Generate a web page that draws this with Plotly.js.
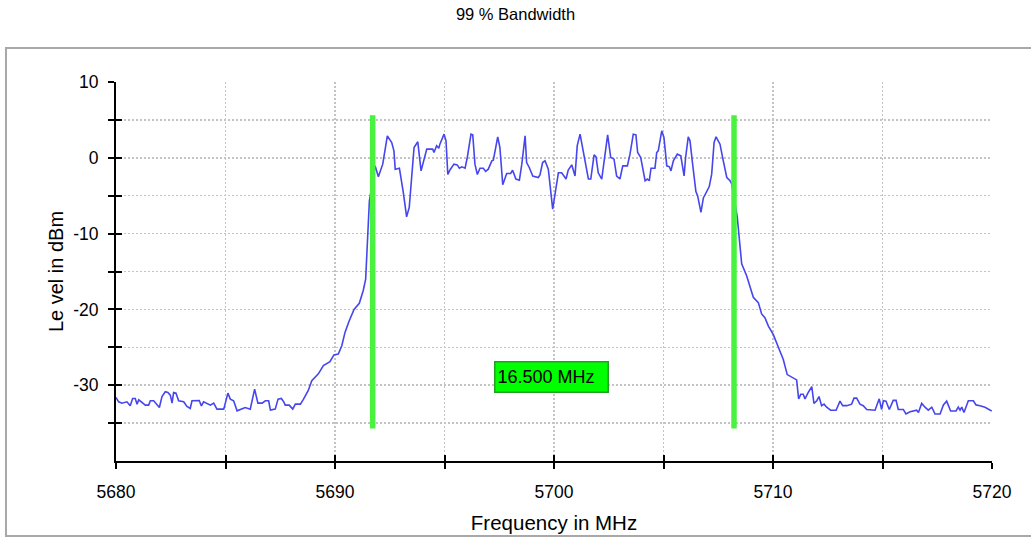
<!DOCTYPE html>
<html>
<head>
<meta charset="utf-8">
<script src="https://cdn.plot.ly/plotly-3.0.1.min.js"></script>
<style>
  html, body { margin: 0; padding: 0; background: #ffffff; }
  #chart { width: 1031px; height: 540px; }
</style>
</head>
<body>
<div id="chart"></div>
<script>
// ---- data ----
const chartTitle = '99 % Bandwidth';
const xTitle = 'Frequency in MHz';
const yTitle = 'Le vel in dBm';

// spectrum trace: frequency (MHz) and level (dBm)
const spectrumFreq = [
  5680.00, 5680.12, 5680.27, 5680.50, 5680.65, 5680.76, 5680.88, 5680.96, 5681.04, 5681.19,
  5681.34, 5681.49, 5681.57, 5681.72, 5681.87, 5681.98, 5682.10, 5682.25, 5682.37, 5682.48,
  5682.56, 5682.63, 5682.74, 5682.86, 5683.09, 5683.24, 5683.39, 5683.47, 5683.80, 5683.90,
  5684.00, 5684.16, 5684.31, 5684.46, 5684.61, 5684.92, 5685.11, 5685.22, 5685.37, 5685.53,
  5685.68, 5685.90, 5686.13, 5686.33, 5686.48, 5686.67, 5686.82, 5686.97, 5687.05, 5687.27,
  5687.40, 5687.55, 5687.66, 5687.73, 5687.91, 5688.07, 5688.19, 5688.42,
  5688.55, 5688.78, 5688.94, 5689.09, 5689.24, 5689.47, 5689.77, 5689.95, 5690.15, 5690.31,
  5690.46, 5690.65, 5690.87, 5691.11, 5691.29, 5691.40, 5691.47, 5691.52, 5691.57,
  5691.83, 5691.98, 5692.18, 5692.39, 5692.59, 5692.69, 5692.75, 5692.94, 5693.12, 5693.27,
  5693.39, 5693.61, 5693.78, 5693.93, 5694.19, 5694.46, 5694.52, 5694.64, 5694.74, 5694.79,
  5694.98, 5695.07, 5695.15, 5695.25, 5695.43, 5695.58, 5695.68, 5695.79, 5695.94, 5696.04,
  5696.21, 5696.29, 5696.39, 5696.50, 5696.62, 5696.77, 5696.88, 5697.00, 5697.16, 5697.23,
  5697.43, 5697.53, 5697.66, 5697.84, 5698.02, 5698.11, 5698.26, 5698.42, 5698.53, 5698.68,
  5698.75, 5698.87, 5699.03, 5699.28, 5699.36, 5699.48, 5699.59, 5699.74, 5699.94, 5700.05,
  5700.20, 5700.35, 5700.55, 5700.65, 5700.81, 5700.96, 5701.06, 5701.19, 5701.37, 5701.57,
  5701.68, 5701.83, 5701.92, 5702.02, 5702.18, 5702.33, 5702.45, 5702.59, 5702.74, 5702.86,
  5703.01, 5703.14, 5703.35, 5703.47, 5703.62, 5703.74, 5703.82, 5703.96, 5704.16, 5704.26,
  5704.35, 5704.43, 5704.61, 5704.69, 5704.76, 5704.92, 5705.02, 5705.15, 5705.27, 5705.34,
  5705.45, 5705.63, 5705.79, 5705.94, 5706.01, 5706.13, 5706.21, 5706.33, 5706.48, 5706.56,
  5706.71, 5706.82, 5706.94, 5707.09, 5707.20, 5707.31, 5707.40, 5707.58, 5707.73, 5707.89,
  5708.04, 5708.11,
  5708.37, 5708.46, 5708.57, 5708.80, 5708.95, 5709.10, 5709.33, 5709.48, 5709.63, 5709.79,
  5710.01, 5710.24, 5710.47, 5710.65, 5710.85, 5711.08, 5711.17, 5711.27, 5711.38, 5711.46,
  5711.61, 5711.77, 5711.87, 5712.00, 5712.10, 5712.22, 5712.33, 5712.45, 5712.63, 5712.88,
  5713.06, 5713.18, 5713.37, 5713.59, 5713.70, 5713.82, 5713.97, 5714.12, 5714.28, 5714.51,
  5714.66, 5714.85, 5714.96, 5715.04, 5715.16, 5715.31, 5715.49, 5715.62, 5715.72, 5715.95,
  5716.07, 5716.26, 5716.56, 5716.64, 5716.79, 5716.94, 5717.09, 5717.25, 5717.40, 5717.63,
  5717.78, 5717.93, 5718.11, 5718.36, 5718.46, 5718.54, 5718.62, 5718.72, 5718.92, 5719.15,
  5719.27, 5719.45, 5719.68, 5719.99
];
const spectrumLevel = [
  -31.62, -32.19, -32.37, -32.19, -32.72, -31.75, -31.75, -32.50, -31.93, -32.28,
  -32.63, -32.63, -32.06, -32.06, -32.50, -32.94, -31.49, -30.87, -30.96, -31.31,
  -32.37, -30.96, -31.05, -32.06, -32.19, -32.81, -33.07, -32.06, -32.02, -32.72,
  -32.19, -32.37, -32.63, -32.37, -33.16, -33.16, -31.05, -31.84, -32.06, -33.38,
  -33.16, -32.94, -33.16, -30.52, -32.37, -32.37, -32.06, -32.06, -33.29, -33.16,
  -31.84, -31.75, -32.19, -32.63, -32.63, -33.16, -32.50, -32.50,
  -31.90, -30.70, -29.40, -28.90, -28.50, -27.40, -26.90, -26.00, -25.90, -24.80,
  -23.00, -21.50, -20.00, -19.20, -17.50, -16.00, -12.30, -7.90, -5.70,
  -1.06, -2.50, -0.84, 2.90, 2.00, 0.92, -1.50, -1.37, -4.60, -7.78,
  -6.55, 1.36, 2.11, -1.72, 1.14, 1.14, 0.70, 1.58, 1.27, 1.80,
  3.12, 2.24, -2.20, -1.60, -0.84, -0.93, -1.37, -1.19, -1.37, 0.04,
  3.12, 3.03, -0.84, -2.20, -1.37, -1.37, -1.80, -1.50, -0.40, -0.31,
  2.77, 1.36, -3.56, -2.07, -2.07, -1.63, -2.80, -2.95, -0.84, 2.90,
  -0.62, -1.28, -2.40, -2.60, -2.25, -0.62, -0.40, -1.50, -6.77, -4.60,
  -1.98, -1.98, -2.80, -1.63, -0.93, -2.40, 1.58, 3.12, 0.48, -2.80,
  -2.80, 0.39, 0.13, -1.98, -2.80, 0.48, 3.03, 0.04, -0.18, -2.40,
  -2.80, -1.06, -1.06, 0.48, 3.12, 3.03, 0.70, 0.04, -3.03, -2.80,
  -3.03, -1.37, -1.37, 0.70, 0.92, 3.56, 2.68, -1.06, -1.19, -1.72,
  -0.40, 0.48, 0.26, -2.40, 0.04, 2.77, 2.24, -0.84, -4.46, -5.03,
  -7.20, -5.30, -4.60, -3.80, -2.16, 2.02, 2.77, 1.80, -0.40, -2.60,
  -3.03, -3.40,
  -7.87, -10.95, -14.00, -15.60, -16.90, -18.40, -19.10, -20.60, -21.10, -22.20,
  -23.30, -25.00, -26.60, -28.60, -28.90, -29.30, -31.80, -31.20, -31.20, -31.80,
  -30.95, -30.20, -32.40, -32.05, -31.50, -32.70, -32.50, -32.90, -33.30, -33.30,
  -32.10, -32.70, -32.70, -32.50, -31.70, -31.70, -32.50, -32.70, -33.20, -33.20,
  -33.30, -31.80, -33.20, -32.05, -32.10, -33.20, -32.00, -32.00, -33.20, -33.20,
  -33.80, -33.50, -33.30, -33.60, -32.40, -32.90, -33.30, -32.90, -33.80, -33.80,
  -32.60, -32.10, -33.40, -33.40, -32.90, -33.30, -32.90, -33.60, -32.05, -32.05,
  -32.60, -32.70, -32.90, -33.40
];

// occupied-bandwidth markers
const obwLowerEdge = 5691.72;
const obwUpperEdge = 5708.22;
const obwMarkerLevels = [5.6, -35.7];
const obwLabel = '16.500 MHz';
const obwLabelPos = { x: 5699.9, y: -28.9 };

// axes
const xRange = [5680, 5720];
const yRange = [-40, 10];
const xTickVals = [5680, 5685, 5690, 5695, 5700, 5705, 5710, 5715, 5720];
const xTickText = ['5680', '', '5690', '', '5700', '', '5710', '', '5720'];
const yTickVals = [-35, -30, -25, -20, -15, -10, -5, 0, 5, 10];
const yTickText = ['', '-30', '', '-20', '', '-10', '', '0', '', '10'];

// ---- styles ----
const FONT = '"Liberation Sans", Arial, Helvetica, sans-serif';
const blue = '#4646ee';
const green = '#48f23e';
const gridCol = '#c4c4c4';

const traces = [
  {
    type: 'scatter', mode: 'lines', x: spectrumFreq, y: spectrumLevel,
    line: { color: blue, width: 1.6 }, hoverinfo: 'skip', showlegend: false,
    xaxis: 'x', yaxis: 'y'
  },
  {
    type: 'scatter', mode: 'lines', x: [obwLowerEdge, obwLowerEdge], y: obwMarkerLevels,
    line: { color: green, width: 5.5 }, hoverinfo: 'skip', showlegend: false,
    xaxis: 'x2', yaxis: 'y2'
  },
  {
    type: 'scatter', mode: 'lines', x: [obwUpperEdge, obwUpperEdge], y: obwMarkerLevels,
    line: { color: green, width: 5.5 }, hoverinfo: 'skip', showlegend: false,
    xaxis: 'x2', yaxis: 'y2'
  }
];

const baseAxis = {
  showline: true, linecolor: '#000', linewidth: 2,
  ticks: 'outside', ticklen: 6, tickwidth: 2, tickcolor: '#000',
  showgrid: true, gridcolor: gridCol, gridwidth: 1.5, griddash: '2px,2px',
  zeroline: false, fixedrange: true,
  tickfont: { family: FONT, size: 17.5, color: '#000' }
};

const layout = {
  width: 1031, height: 540,
  margin: { l: 116, r: 39, t: 82, b: 79 },
  paper_bgcolor: '#fff', plot_bgcolor: '#fff',
  font: { family: FONT, color: '#000' },
  showlegend: false,
  title: {
    text: chartTitle, x: 0.5, xanchor: 'center', y: 0.974, yanchor: 'middle',
    font: { family: FONT, size: 16.5, color: '#000' }
  },
  xaxis: Object.assign({}, baseAxis, {
    range: xRange, tickmode: 'array', tickvals: xTickVals, ticktext: xTickText,
    ticklabelstandoff: 8,
    title: { text: xTitle, font: { family: FONT, size: 20.5, color: '#000' }, standoff: 15 }
  }),
  yaxis: Object.assign({}, baseAxis, {
    range: yRange, tickmode: 'array', tickvals: yTickVals, ticktext: yTickText,
    ticklabelstandoff: 6,
    title: { text: yTitle, font: { family: FONT, size: 20, color: '#000' }, standoff: 4 }
  }),
  xaxis2: {
    overlaying: 'x', anchor: 'y2', range: xRange, tickmode: 'array', tickvals: xTickVals,
    ticks: 'inside', ticklen: 6, tickwidth: 2, tickcolor: '#000',
    showticklabels: false, showgrid: false, showline: false, zeroline: false, fixedrange: true
  },
  yaxis2: {
    overlaying: 'y', anchor: 'x2', range: yRange, tickmode: 'array', tickvals: yTickVals,
    ticks: 'inside', ticklen: 6, tickwidth: 2, tickcolor: '#000',
    showticklabels: false, showgrid: false, showline: false, zeroline: false, fixedrange: true
  },
  annotations: [{
    xref: 'x', yref: 'y', x: obwLabelPos.x, y: obwLabelPos.y,
    text: obwLabel, showarrow: false, xanchor: 'center', yanchor: 'middle',
    align: 'left', width: 108, height: 25,
    bgcolor: '#00ff00', bordercolor: '#22a022', borderwidth: 1.5, borderpad: 2,
    font: { family: FONT, size: 18, color: '#000' }
  }],
  shapes: [{
    type: 'rect', xref: 'paper', yref: 'paper',
    x0: -0.1256, x1: 1.06, y0: -0.198, y1: 1.0897,
    line: { color: '#a8a8a8', width: 2 }, fillcolor: 'rgba(0,0,0,0)', layer: 'below'
  }]
};

Plotly.newPlot('chart', traces, layout, { displayModeBar: false, staticPlot: true });
</script>
</body>
</html>
